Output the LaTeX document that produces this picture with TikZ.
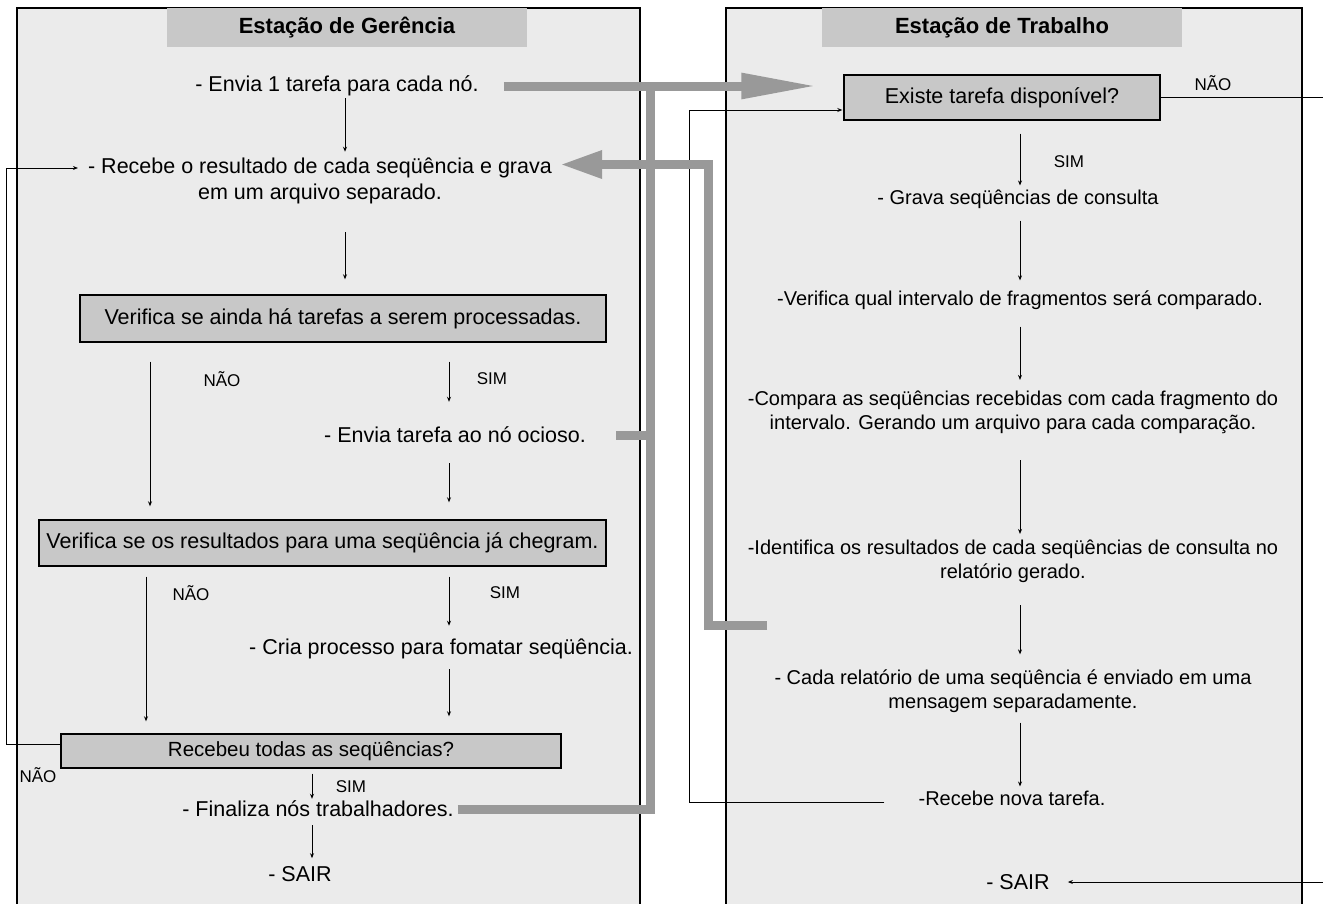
\documentclass[tikz,border=0pt]{standalone}
\usepackage{fontspec}
\setmainfont{Liberation Sans}
\usepackage{tikz}
\usetikzlibrary{positioning,arrows.meta}

\definecolor{panelgray}{RGB}{235,235,235}
\definecolor{headgray}{RGB}{200,200,200}
\definecolor{boxgray}{RGB}{200,200,200}
\definecolor{busgray}{RGB}{153,153,153}

\tikzset{
  txt/.style = {font=\fontsize{21.5}{26}\selectfont, align=center, inner sep=2pt},
  txtr/.style = {font=\fontsize{20}{24}\selectfont, align=center, inner sep=2pt},
  lbl/.style = {font=\fontsize{17}{19}\selectfont, inner sep=1pt},
  headbox/.style = {fill=headgray, minimum width=360pt, minimum height=39pt,
                    font=\bfseries\fontsize{22}{26}\selectfont},
  testbox/.style = {draw, fill=boxgray, line width=1.4pt, inner sep=0pt,
                    font=\fontsize{21.5}{26}\selectfont},
  arr/.style = {-{Stealth[length=5pt,width=4pt]}, line width=0.9pt},
  bus/.style = {draw=busgray, line width=9pt}
}

\begin{document}
\begin{tikzpicture}[x=1pt, y=-1pt]

\useasboundingbox (0,0) rectangle (1323,903);

% panels
\draw[fill=panelgray, line width=1.2pt] (17,8) rectangle (640,915);
\draw[fill=panelgray, line width=1.2pt] (726,8) rectangle (1302,915);
\node[headbox] (headL) at (347,27.5) {Estação de Gerência};
\node[headbox] (headR) at (1002,27.5) {Estação de Trabalho};

% gerencia
\node[txt] (envia) at (337,86) {- Envia 1 tarefa para cada nó.};
\node[txt] (recebe) at (320,181) {- Recebe o resultado de cada seqüência e grava\\em um arquivo separado.};
\node[testbox, minimum width=526pt, minimum height=47pt] (ainda) at (343,318.5) {Verifica se ainda há tarefas a serem processadas.};
\node[txt] (ocioso) at (455,435) {- Envia tarefa ao nó ocioso.};
\node[testbox, minimum width=567pt, minimum height=46pt] (chegou) at (322.5,543) {Verifica se os resultados para uma seqüência já chegram.};
\node[txt] (formata) at (441,649) {- Cria processo para fomatar seqüência.};
\node[testbox, minimum width=500pt, minimum height=34pt, font=\fontsize{20.5}{24}\selectfont] (todas) at (311,751) {Recebeu todas as seqüências?};
\node[txt] (finaliza) at (318,809) {- Finaliza nós trabalhadores.};
\node[txt] (sairG) at (300,874) {- SAIR};

\node[lbl] (naoA) at (222,379) {NÃO};
\node[lbl] (simA) at (492,379) {SIM};
\node[lbl] (naoB) at (191,593) {NÃO};
\node[lbl] (simB) at (505,593) {SIM};
\node[lbl] (naoC) at (38,775) {NÃO};
\node[lbl] (simC) at (351,787) {SIM};

\coordinate (colA) at (345,0);
\coordinate (colB) at (150,0);
\coordinate (colC) at (449,0);
\coordinate (colD) at (146,0);
\coordinate (colE) at (312,0);

\draw[arr, shorten <=0pt, shorten >=4pt] (envia.south -| colA) -- (recebe.north -| colA);
\draw[arr, shorten <=26pt, shorten >=15pt] (recebe.south -| colA) -- (ainda.north -| colA);
\draw[arr, shorten <=19pt, shorten >=13pt] (ainda.south -| colB) -- (chegou.north -| colB);
\draw[arr, shorten <=19pt, shorten >=23pt] (ainda.south -| colC) -- (ocioso.north -| colC);
\draw[arr, shorten <=18pt, shorten >=17pt] (ocioso.south -| colC) -- (chegou.north -| colC);
\draw[arr, shorten <=10pt, shorten >=12pt] (chegou.south -| colD) -- (todas.north -| colD);
\draw[arr, shorten <=10pt, shorten >=11pt] (chegou.south -| colC) -- (formata.north -| colC);
\draw[arr, shorten <=8pt, shorten >=17pt] (formata.south -| colC) -- (todas.north -| colC);
\draw[arr, shorten <=5pt, shorten >=0pt] (todas.south -| colE) -- (finaliza.north -| colE);
\draw[arr, shorten <=6pt, shorten >=6pt] (finaliza.south -| colE) -- (sairG.north -| colE);
\draw[arr, shorten >=8pt] ([yshift=7pt]todas.west) -- ++(-54,0) |- ([yshift=13pt]recebe.west);

% trabalho
\node[testbox, minimum width=316pt, minimum height=45pt] (existe) at (1002,97.5) {Existe tarefa disponível?};
\node[txtr] (grava) at (1018,199) {- Grava seqüências de consulta};
\node[txtr] (intervalo) at (1020,300) {-Verifica qual intervalo de fragmentos será comparado.};
\node[txtr] (compara) at (1013,412.5) {-Compara as seqüências recebidas com cada fragmento do\\intervalo. Gerando um arquivo para cada comparação.};
\node[txtr] (identifica) at (1013,561.5) {-Identifica os resultados de cada seqüências de consulta no\\relatório gerado.};
\node[txtr] (relatorio) at (1013,691) {- Cada relatório de uma seqüência é enviado em uma\\mensagem separadamente.};
\node[txtr] (nova) at (1012,798) {-Recebe nova tarefa.};
\node[txt] (sairT) at (1018,882) {- SAIR};

\node[lbl] (naoD) at (1213,83) {NÃO};
\node[lbl] (simD) at (1069,162) {SIM};

\coordinate (colT) at (1020,0);
\coordinate (volta) at (1326,0);

\draw[arr, shorten <=13pt, shorten >=2pt] (existe.south -| colT) -- (grava.north -| colT);
\draw[arr, shorten <=10pt, shorten >=8pt] (grava.south -| colT) -- (intervalo.north -| colT);
\draw[arr, shorten <=15pt, shorten >=9pt] (intervalo.south -| colT) -- (compara.north -| colT);
\draw[arr, shorten <=24pt, shorten >=4pt] (compara.south -| colT) -- (identifica.north -| colT);
\draw[arr, shorten <=20pt, shorten >=13pt] (identifica.south -| colT) -- (relatorio.north -| colT);
\draw[arr, shorten <=8pt, shorten >=2pt] (relatorio.south -| colT) -- (nova.north -| colT);
\draw[arr, shorten >=1pt] ([xshift=-32pt, yshift=-4pt]nova.west) -- ++(-195,0) |- ([yshift=-12.5pt]existe.west);
\draw[arr, shorten >=16pt] (existe.east) -- (existe.east -| volta) |- (sairT.east);

% mensagens
\coordinate (busTop) at (650,81.5);
\coordinate (retorno) at (767,625);
\draw[bus, -{Triangle[length=76pt, width=24pt]}] ([xshift=23pt]envia.east) -- ([xshift=-26pt]existe.west |- envia.east);
\draw[bus] ([xshift=2pt]finaliza.east) -| (busTop);
\draw[bus] ([xshift=28pt]ocioso.east) -- (ocioso.east -| busTop);
\draw[bus, -{Triangle[length=42pt, width=26pt]}] (retorno) -- ++(-59,0) |- ([xshift=6pt, yshift=16.5pt]recebe.east);

\end{tikzpicture}
\end{document}
